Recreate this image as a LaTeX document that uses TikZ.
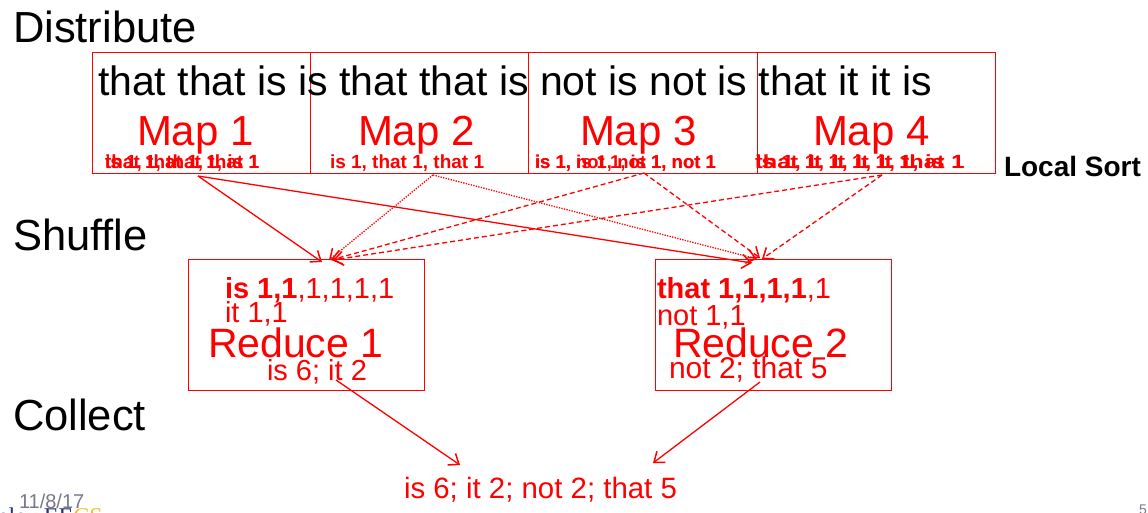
\documentclass[tikz,border=0pt]{standalone}
\usepackage{fontspec}
\setmainfont{Liberation Sans}
\newfontfamily\logofont{Liberation Serif}
\usetikzlibrary{arrows.meta}
\definecolor{pptred}{RGB}{255,0,0}
\definecolor{dategray}{RGB}{120,120,140}
\definecolor{logoblue}{RGB}{40,50,120}
\definecolor{logogold}{RGB}{240,190,40}
\newcommand\pxsize[1]{\fontsize{#1}{#1}\selectfont}
\tikzset{
  txt/.style={anchor=base west, inner sep=0pt, outer sep=0pt},
  head/.style={txt, font=\pxsize{43.5}, text=black},
  words/.style={txt, font=\pxsize{41}, text=black},
  biglabel/.style={txt, font=\pxsize{42}, text=pptred},
  small/.style={txt, font=\pxsize{19}\bfseries, text=pptred},
  redtxt/.style={txt, font=\pxsize{29}, text=pptred},
  box/.style={draw=pptred, line width=0.9pt, anchor=north west, inner sep=0pt, outer sep=0pt},
  arr/.style={draw=pptred, line width=1.3pt, -{Straight Barb[length=9pt,width=14pt,line width=1.5pt]}},
  dotline/.style={dash pattern=on 1.3pt off 1.3pt},
  dashline/.style={dash pattern=on 5pt off 3pt}
}
\begin{document}
\begin{tikzpicture}[x=1pt,y=-1pt]
\useasboundingbox (0,0) rectangle (1148,512);

% headings
\node[head] (dist) at (13,42) {Distribute};
\node[head] (shuf) at (13,250) {Shuffle};
\node[head] (coll) at (13,430) {Collect};

% map boxes
\node[box, minimum width=218pt, minimum height=121pt] (box1) at (92,52) {};
\node[box, minimum width=218pt, minimum height=121pt] (box2) at (310,52) {};
\node[box, minimum width=229pt, minimum height=121pt] (box3) at (528,52) {};
\node[box, minimum width=238pt, minimum height=121pt] (box4) at (757,52) {};

% input text
\node[words] (input) at (98,95) {that that is is that that is not is not is that it it is};

% map labels
\node[biglabel] (map1) at (137,145) {Map 1};
\node[biglabel] (map2) at (358,145) {Map 2};
\node[biglabel] (map3) at (580,145) {Map 3};
\node[biglabel] (map4) at (813,145) {Map 4};

% map outputs (unsorted and sorted overlapping, as on the slide)
\node[small] (o1a) at (105,168) {that 1, that 1, is 1};
\node[small] (o1b) at (105,168) {is 1, that 1, that 1};
\node[small] (o2) at (330,168) {is 1, that 1, that 1};
\node[small, font=\pxsize{18.5}\bfseries] (o3a) at (535,168) {is 1, not 1, is 1, not 1};
\node[small, font=\pxsize{18.5}\bfseries] (o3b) at (535,168) {is 1, is 1, not 1, not 1};
\node[small] (o4a) at (755,168) {\scalebox{1.24}[1]{that 1, it 1, it 1, is 1}};
\node[small] (o4b) at (755,168) {\scalebox{1.24}[1]{is 1, it 1, it 1, that 1}};

\node[txt, font=\pxsize{28}\bfseries, text=black] (lsort) at (1004,176) {Local Sort};

% reduce boxes
\node[box, minimum width=236pt, minimum height=131pt] (red1box) at (188,259) {};
\node[box, minimum width=236pt, minimum height=131pt] (red2box) at (655,259) {};

\node[redtxt] (r1a) at (225,298) {\textbf{is 1,1},1,1,1,1};
\node[redtxt] (r1c) at (225,322) {it 1,1};
\node[biglabel, font=\pxsize{41}] (red1) at (208,357) {Reduce 1};
\node[redtxt] (r1out) at (267,380) {is 6; it 2};

\node[redtxt] (r2a) at (657,298) {\textbf{that 1,1,1,1},1};
\node[redtxt] (r2c) at (657,325) {not 1,1};
\node[biglabel, font=\pxsize{41}] (red2) at (673,357) {Reduce 2};
\node[redtxt, font=\pxsize{30}] (r2out) at (669,378) {not 2; that 5};

\node[redtxt, font=\pxsize{29.4}] (final) at (404,498) {is 6; it 2; not 2; that 5};

% footer
\node[txt, font=\logofont\pxsize{24}, text=logoblue] (logo) at (-2,524) {eley EE\textcolor{logogold}{CS}};
\node[txt, font=\pxsize{20}, text=dategray] (date) at (19,508) {11/8/17};
\node[txt, font=\pxsize{14}, text=dategray] (pagenum) at (1139,514) {5};

% connector anchors
\coordinate (s1) at (198,176);
\coordinate (s2) at (433,175);
\coordinate (s3) at (644,173);
\coordinate (s4) at (882,175);
\coordinate (t1a) at (322,262);
\coordinate (t1b) at (329,260);
\coordinate (t1c) at (331,260);
\coordinate (t1d) at (333,260);
\coordinate (t2a) at (752,263);
\coordinate (t2b) at (757,259);
\coordinate (t2c) at (760,258);
\coordinate (t2d) at (762,259);
\coordinate (u1) at (336,380);
\coordinate (u2) at (760,382);
\coordinate (f1) at (460,465);
\coordinate (f2) at (653,463);

% shuffle arrows
\draw[arr] (s1) -- (t1a);
\draw[arr] (s1) -- (t2a);
\draw[arr, dotline] (s2) -- (t1b);
\draw[arr, dotline] (s2) -- (t2b);
\draw[arr, dashline] (s3) -- (t1c);
\draw[arr, dashline] (s3) -- (t2c);
\draw[arr, dashline] (s4) -- (t1d);
\draw[arr, dashline] (s4) -- (t2d);

% collect arrows
\draw[arr] (u1) -- (f1);
\draw[arr] (u2) -- (f2);
\end{tikzpicture}
\end{document}
